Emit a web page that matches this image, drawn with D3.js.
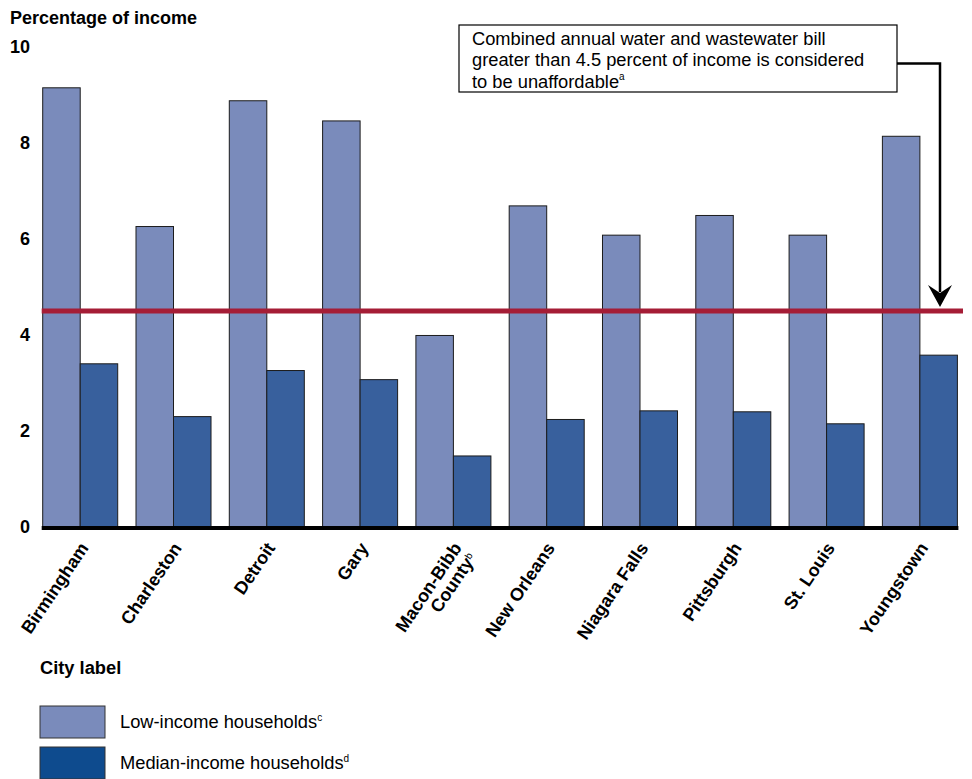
<!DOCTYPE html>
<html>
<head>
<meta charset="utf-8">
<script src="https://cdn.jsdelivr.net/npm/d3@7"></script>
<style>
    body { margin: 0; background: #fff; }
    svg { display: block; }
</style>
</head>
<body>
<div id="chart"></div>
<script>
var cities = ["Birmingham", "Charleston", "Detroit", "Gary", "Macon-Bibb|County", "New Orleans",
    "Niagara Falls", "Pittsburgh", "St. Louis", "Youngstown"];
var lowIncome = [9.15, 6.26, 8.88, 8.46, 3.99, 6.69, 6.08, 6.49, 6.08, 8.14];
var medianIncome = [3.40, 2.30, 3.26, 3.07, 1.48, 2.24, 2.42, 2.40, 2.15, 3.58];
var yTicks = [0, 2, 4, 6, 8, 10];
var threshold = 4.5;
var noteLines = ["Combined annual water and wastewater bill",
    "greater than 4.5 percent of income is considered",
    "to be unaffordable"];

(function(){
    var width = 972;
    var height = 779;
    var font = '"Liberation Sans", Arial, Helvetica, sans-serif';

    var colours = {
        low: "#7a8bbb",
        median: "#38609d",
        medianKey: "#0e4b8e",
        line: "#a51d36"
    };

    var svg = d3.select("#chart")
        .append("svg")
            .attr("width", width)
            .attr("height", height)
            .style("font-family", font);

    var data = cities.map(function(c, i){
        return { city: c, low: lowIncome[i], median: medianIncome[i] };
    });

    var xScale = d3.scaleBand()
        .domain(cities)
        .range([42.7, 957.4])
        .paddingInner(0.196)
        .paddingOuter(0);

    var xInner = d3.scaleBand()
        .domain(["low", "median"])
        .range([0, xScale.bandwidth()]);

    var yScale = d3.scaleLinear()
        .domain([0, 10])
        .range([527, 47]);

    // axis title
    svg.append("text")
        .attr("x", 10)
        .attr("y", 23.5)
        .attr("font-size", "18px")
        .attr("font-weight", "bold")
        .text("Percentage of income");

    // y axis, labels only
    var yAxis = d3.axisLeft(yScale)
        .tickValues(yTicks)
        .tickSize(0)
        .tickPadding(0)
        .tickFormat(d3.format("d"));

    var yg = svg.append("g")
        .attr("class", "y axis")
        .attr("transform", "translate(30,0)")
        .call(yAxis);
    yg.select(".domain").remove();
    yg.selectAll(".tick text")
        .attr("font-family", font)
        .attr("font-size", "18px")
        .attr("font-weight", "bold")
        .attr("fill", "#000");

    // bars
    var groups = svg.selectAll(".city")
        .data(data)
        .enter()
        .append("g")
        .attr("class", "city")
        .attr("transform", function(d){
            return "translate(" + xScale(d.city) + ",0)";
        });

    groups.selectAll("rect")
        .data(function(d){
            return [{ key: "low", value: d.low }, { key: "median", value: d.median }];
        })
        .enter()
        .append("rect")
        .attr("x", function(d){ return xInner(d.key); })
        .attr("width", xInner.bandwidth())
        .attr("y", function(d){ return yScale(d.value); })
        .attr("height", function(d){ return yScale(0) - yScale(d.value); })
        .attr("fill", function(d){ return colours[d.key]; })
        .attr("stroke", "#1c1c1c")
        .attr("stroke-width", 1);

    // baseline
    svg.append("line")
        .attr("x1", xScale.range()[0] - 1)
        .attr("x2", xScale.range()[1] + 1)
        .attr("y1", yScale(0) + 1)
        .attr("y2", yScale(0) + 1)
        .attr("stroke", "#000")
        .attr("stroke-width", 4);

    // threshold line
    svg.append("line")
        .attr("x1", xScale.range()[0] - 1)
        .attr("x2", 963)
        .attr("y1", yScale(threshold))
        .attr("y2", yScale(threshold))
        .attr("stroke", colours.line)
        .attr("stroke-width", 5);

    // city labels
    var labels = svg.selectAll(".xlabel")
        .data(data)
        .enter()
        .append("text")
        .attr("class", "xlabel")
        .attr("text-anchor", "end")
        .attr("font-size", "18px")
        .attr("font-weight", "bold")
        .attr("transform", function(d){
            var cx = xScale(d.city) + xScale.bandwidth() / 2 + 9;
            return "translate(" + cx + "," + (yScale(0) + 21) + ") rotate(-56)";
        });

    labels.each(function(d){
        var t = d3.select(this);
        var parts = d.city.split("|");
        parts.forEach(function(p, i){
            t.append("tspan")
                .attr("x", 0)
                .attr("dy", i == 0 ? 0 : "1.0em")
                .text(p);
        });
        if(parts.length > 1) {
            t.append("tspan")
                .attr("font-size", "10px")
                .attr("font-weight", "normal")
                .attr("dy", "-0.5em")
                .text("b");
        }
    });

    // note box
    var note = svg.append("g").attr("class", "note");
    note.append("rect")
        .attr("x", 459)
        .attr("y", 25)
        .attr("width", 438)
        .attr("height", 67)
        .attr("fill", "#fff")
        .attr("stroke", "#000")
        .attr("stroke-width", 1.2);

    var noteText = note.append("text")
        .attr("font-size", "18.3px")
        .attr("fill", "#000");
    noteLines.forEach(function(l, i){
        noteText.append("tspan")
            .attr("x", 472)
            .attr("y", 45 + i * 21.3)
            .text(l);
    });
    noteText.append("tspan")
        .attr("font-size", "10px")
        .attr("dy", "-0.75em")
        .text("a");

    var tipY = yScale(threshold) - 4;
    note.append("path")
        .attr("d", "M897,63.5 H940 V" + (tipY - 15))
        .attr("fill", "none")
        .attr("stroke", "#000")
        .attr("stroke-width", 2.5);
    note.append("path")
        .attr("d", "M940," + tipY + " L928," + (tipY - 22) + " L940," + (tipY - 14) + " L952," + (tipY - 22) + " Z")
        .attr("fill", "#000");

    // legend
    svg.append("text")
        .attr("x", 40)
        .attr("y", 673.5)
        .attr("font-size", "18.3px")
        .attr("font-weight", "bold")
        .text("City label");

    var keys = [
        { label: "Low-income households", sup: "c", fill: colours.low },
        { label: "Median-income households", sup: "d", fill: colours.medianKey }
    ];

    var legend = svg.selectAll(".key")
        .data(keys)
        .enter()
        .append("g")
        .attr("class", "key")
        .attr("transform", function(d, i){
            return "translate(40," + (706 + i * 41) + ")";
        });

    legend.append("rect")
        .attr("width", 65)
        .attr("height", 32)
        .attr("fill", function(d){ return d.fill; })
        .attr("stroke", "#333")
        .attr("stroke-width", 1);

    var lt = legend.append("text")
        .attr("x", 80)
        .attr("y", 22.3)
        .attr("font-size", "18.3px");
    lt.append("tspan").text(function(d){ return d.label; });
    lt.append("tspan")
        .attr("font-size", "10px")
        .attr("dy", "-0.75em")
        .text(function(d){ return d.sup; });
})();
</script>
</body>
</html>
